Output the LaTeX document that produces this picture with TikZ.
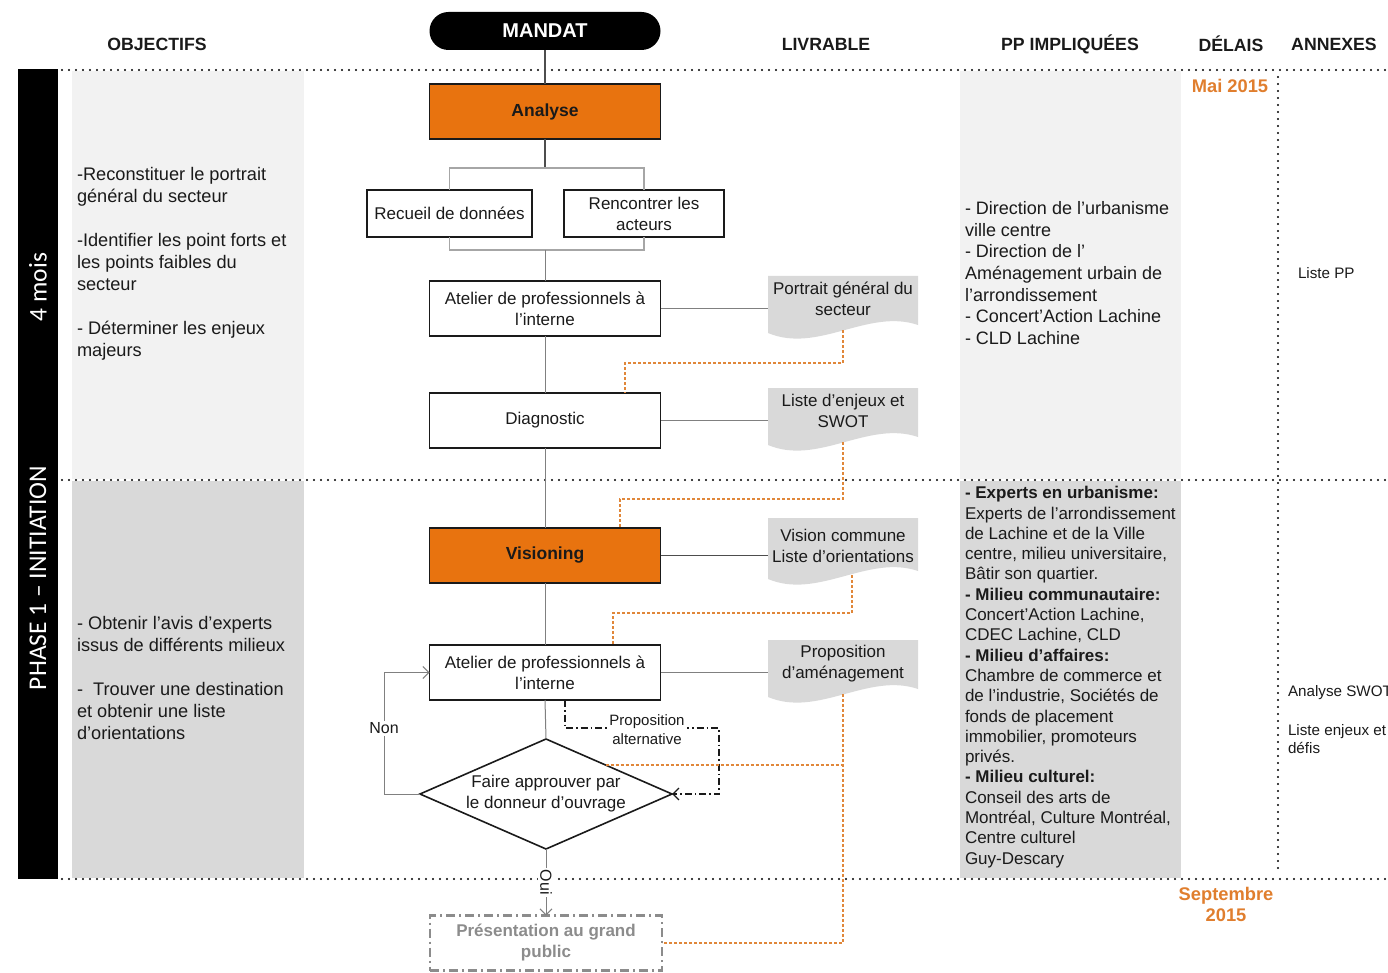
\documentclass[tikz,border=0pt]{standalone}
\usepackage{fontspec}
\setmainfont{Liberation Sans}
\newfontfamily\barfont{Carlito}
\usetikzlibrary{shapes.geometric,arrows.meta,calc}

\definecolor{procorange}{HTML}{E8730F}
\definecolor{dateorange}{HTML}{E07E2E}
\definecolor{linkorange}{HTML}{E0873A}
\definecolor{panelA}{HTML}{F2F2F2}
\definecolor{panelB}{HTML}{D9D9D9}
\definecolor{docgray}{HTML}{D9D9D9}
\definecolor{ink}{HTML}{1A1A1A}
\definecolor{linkgray}{HTML}{808080}
\definecolor{darkgray}{HTML}{4D4D4D}
\definecolor{bracketgray}{HTML}{A6A6A6}
\definecolor{presgray}{HTML}{8C8C8C}

\newcommand\setfs[2]{\fontsize{#1}{#2}\selectfont}

\begin{document}
\begin{tikzpicture}[x=1pt,y=-1pt,
  every node/.style={inner sep=0pt, outer sep=0pt, text=ink},
  dotrule/.style={line width=2.2pt, line cap=round, dash pattern=on 0pt off 7pt, black},
  head/.style={font=\bfseries\setfs{17.7}{21}},
  body/.style={anchor=west, align=left, font=\setfs{18.2}{22}},
  pptext/.style={anchor=west, align=left, font=\setfs{17}{20.3}},
  procbox/.style={draw=ink, fill=white, line width=1.6pt, minimum width=231pt,
    minimum height=55pt, align=center, font=\setfs{17}{21}},
  keybox/.style={procbox, fill=procorange, font=\bfseries\setfs{17.5}{21}},
  docshape/.style={minimum width=150pt, minimum height=#1,
    path picture={
      \fill[docgray]
        (path picture bounding box.north west) --
        (path picture bounding box.north east) --
        ([yshift=15pt]path picture bounding box.south east)
        .. controls ([xshift=-50pt,yshift=32pt]path picture bounding box.south east)
           and ([xshift=50pt,yshift=-14pt]path picture bounding box.south west) ..
        ([yshift=7pt]path picture bounding box.south west) -- cycle;
    }},
  doctext/.style={align=center, font=\setfs{17}{21}},
  flow/.style={draw=linkgray, line width=1pt},
  darklink/.style={draw=darkgray, line width=1.1pt},
  bracket/.style={draw=bracketgray, line width=1.2pt},
  orlink/.style={draw=linkorange, line width=1.6pt, dash pattern=on 3pt off 2pt},
  altlink/.style={draw=ink, line width=1.3pt, dash pattern=on 7pt off 3pt on 1.5pt off 3pt},
  arr/.style={-{Straight Barb[length=6pt,width=12pt]}},
  tag/.style={fill=white, inner sep=2pt},
  datetext/.style={font=\bfseries\setfs{18.3}{21}, text=dateorange, align=center},
  annex/.style={anchor=west, align=left, font=\setfs{15.2}{18}}
]
\useasboundingbox (0,0) rectangle (1388,973);

% column panels
\fill[panelA] (72,71) rectangle (304,479);
\fill[panelB] (72,481) rectangle (304,878);
\fill[panelA] (960,71) rectangle (1181,479);
\fill[panelB] (960,481) rectangle (1181,878);

% phase bar
\fill[black] (18,69) rectangle (58,879);
\node[rotate=90, text=white, font=\barfont\setfs{25.5}{30}] (dur) at (38,287) {4 mois};
\node[rotate=90, text=white, font=\barfont\setfs{25.5}{30}] (phase) at (38,578) {PHASE 1 – INITIATION};

% dotted grid
\draw[dotrule] (62,70) -- (1388,70);
\draw[dotrule] (62,480) -- (1388,480);
\draw[dotrule] (62,879) -- (1388,879);
\draw[dotrule] (1278,77) -- (1278,872);

% column headings
\node[head] (h-obj) at (157,44) {OBJECTIFS};
\node[head] (h-liv) at (826,44) {LIVRABLE};
\node[head] (h-pp)  at (1070,44) {PP IMPLIQUÉES};
\node[head] (h-del) at (1231,44) {DÉLAIS};
\node[head] (h-ann) at (1334,44) {ANNEXES};

% objectives
\node[body] (obj1) at (77,264) {-Reconstituer le portrait\\général du secteur\\[22pt]-Identifier les point forts et\\les points faibles du\\secteur\\[22pt]- Déterminer les enjeux\\majeurs};
\node[body] (obj2) at (77,678) {- Obtenir l’avis d’experts\\issus de différents milieux\\[22pt]-\ \ Trouver une destination\\et obtenir une liste\\d’orientations};

% stakeholders
\node[pptext, font=\setfs{18}{21.7}] (pp1) at (965,273) {- Direction de l’urbanisme\\ville centre\\- Direction de l’\\Aménagement urbain de\\l’arrondissement\\- Concert’Action Lachine\\- CLD Lachine};
\node[pptext] (pp2) at (965,677) {\textbf{- Experts en urbanisme:}\\Experts de l’arrondissement\\de Lachine et de la Ville\\centre, milieu universitaire,\\Bâtir son quartier.\\\textbf{- Milieu communautaire:}\\Concert’Action Lachine,\\CDEC Lachine, CLD\\\textbf{- Milieu d’affaires:}\\Chambre de commerce et\\de l’industrie, Sociétés de\\fonds de placement\\immobilier, promoteurs\\privés.\\\textbf{- Milieu culturel:}\\Conseil des arts de\\Montréal, Culture Montréal,\\Centre culturel\\Guy-Descary};

% dates
\node[datetext] (d1) at (1230,86) {Mai 2015};
\node[datetext] (d2) at (1226,904.5) {Septembre\\2015};

% annexes
\node[annex] (ax1) at (1298,273) {Liste PP};
\node[annex] (ax2) at (1288,693) {Analyse SWOT};
\node[annex] (ax3) at (1288,739) {Liste enjeux et\\défis};

% process chain
\node[fill=black, rounded corners=19pt, minimum width=231pt, minimum height=38pt,
      text=white, font=\bfseries\setfs{20}{24}] (mandat) at (545,31) {MANDAT};
\node[keybox] (ana) at (545,111.5) {Analyse};
\node[procbox, minimum width=165pt, minimum height=47pt] (rec) at (449.5,213.5) {Recueil de données};
\node[procbox, minimum width=160pt, minimum height=47pt] (ren) at (644,213.5) {Rencontrer les\\acteurs};
\node[procbox] (at1) at (545,308.5) {Atelier de professionnels à\\l’interne};
\node[procbox] (diag) at (545,420.5) {Diagnostic};
\node[keybox] (vis) at (545,555.5) {Visioning};
\node[procbox] (at2) at (545,672.5) {Atelier de professionnels à\\l’interne};
\node[draw=ink, fill=white, line width=1.6pt, diamond, aspect=2.3, minimum width=252pt,
      minimum height=110pt, align=center, font=\setfs{17}{21}] (dia) at (546,794)
      {Faire approuver par\\le donneur d’ouvrage};
\node[draw=presgray, line width=2.2pt, dash pattern=on 9pt off 4pt on 2pt off 4pt,
      minimum width=232pt, minimum height=55pt, align=center, text=presgray,
      font=\bfseries\setfs{17}{21}] (pres) at (546,943) {Présentation au grand\\public};

% deliverables
\node[docshape=64pt] (prt) at (843,308) {};
\node[doctext] (prt-t) at (843,298.5) {Portrait général du\\secteur};
\node[docshape=64pt] (lst) at (843,420) {};
\node[doctext] (lst-t) at (843,411) {Liste d’enjeux et\\SWOT};
\node[docshape=68pt] (vsn) at (843,552) {};
\node[doctext] (vsn-t) at (843,545.5) {Vision commune\\Liste d’orientations};
\node[docshape=64pt] (prop) at (843,672) {};
\node[doctext] (prop-t) at (843,663.5) {Proposition\\d’aménagement};

% connectors
\coordinate (fork) at (545,168);
\coordinate (join) at (545,250);
\draw[darklink] (mandat.south) -- (ana.north);
\draw[darklink] (ana.south) -- (fork);
\draw[bracket] (rec.north) |- (fork) -| (ren.north);
\draw[bracket] (rec.south) |- (join) -| (ren.south);
\draw[flow] (join) -- (at1.north);
\draw[flow] (at1.east) -- (at1.east -| prt.west);
\draw[flow] (at1.south) -- (diag.north);
\draw[flow] (diag.east) -- (diag.east -| lst.west);
\draw[flow] (diag.south) -- (vis.north);
\draw[darklink] (vis.east) -- (vis.east -| vsn.west);
\draw[flow] (vis.south) -- (at2.north);
\draw[flow] (at2.east) -- (at2.east -| prop.west);
\draw[flow] (at2.south) -- (dia.north);
\draw[flow, arr] (dia.south) -- node[tag, rotate=-90, font=\setfs{16}{19}] (oui) {Oui} (pres.north);
\draw[flow, arr] (dia.west) -- ++(-36,0) |- node[tag, pos=0.27, font=\setfs{16}{19}] (non) {Non} (at2.west);
\draw[altlink, arr] ([xshift=20pt]at2.south) -- ++(0,28)
  -| node[tag, pos=0.25, xshift=5pt, yshift=-2pt, align=center, font=\setfs{15}{19}] (alt) {Proposition\\alternative}
  ([xshift=47pt]dia.east) -- (dia.east);

% deliverable feedback links
\draw[orlink] ([yshift=10pt]prt.south) -- ++(0,33) -| ([xshift=80pt]diag.north);
\draw[orlink] ([yshift=10pt]lst.south) -- ++(0,57) -| ([xshift=75pt]vis.north);
\draw[orlink] ([xshift=9pt,yshift=11pt]vsn.south) -- ++(0,38) -| ([xshift=68pt]at2.north);
\draw[orlink] ([yshift=10pt]prop.south) |- (pres.east);
\coordinate (djoin) at ($(dia.north)!0.473!(dia.east)$);
\draw[orlink] (djoin) -- (djoin -| prop.south);
\end{tikzpicture}
\end{document}
